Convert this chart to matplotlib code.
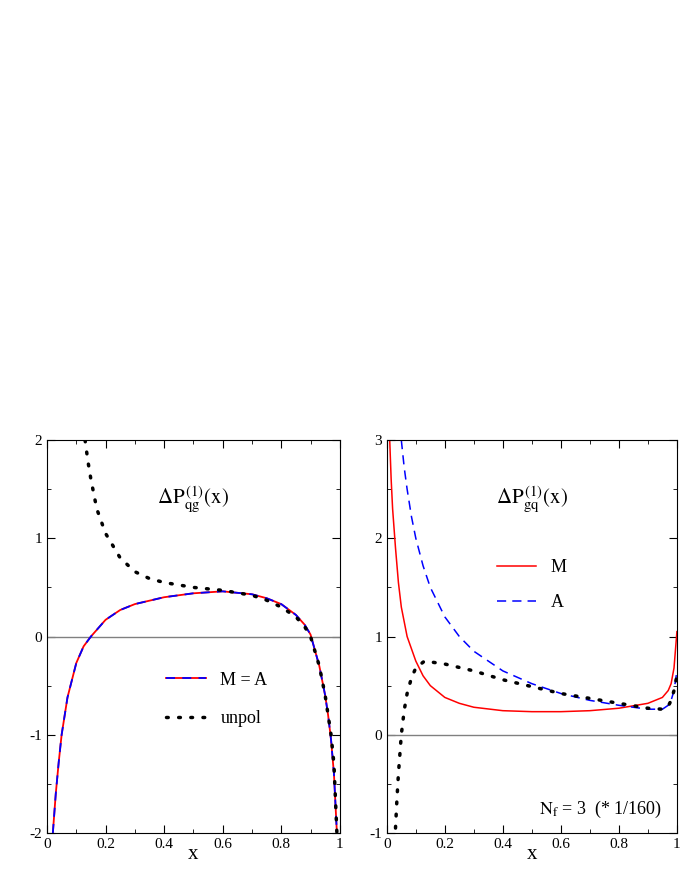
import matplotlib
matplotlib.use("Agg")
import matplotlib.pyplot as plt
from matplotlib.ticker import MultipleLocator

plt.rcParams['font.family'] = ['Liberation Serif', 'DejaVu Serif']
plt.rcParams['mathtext.fontset'] = 'stix'

# left panel: Delta P_qg
qg_x = [0.02, 0.03, 0.04, 0.05, 0.07, 0.1, 0.125, 0.15, 0.2, 0.25, 0.3, 0.4, 0.5, 0.6, 0.7, 0.75, 0.8, 0.85, 0.88, 0.9, 0.93, 0.95, 0.96, 0.97, 0.98, 0.99]
qg_MA = [-2.0, -1.6, -1.28, -1.0, -0.62, -0.27, -0.1, 0.0, 0.17, 0.27, 0.33, 0.4, 0.44, 0.46, 0.43, 0.39, 0.33, 0.22, 0.12, 0.02, -0.3, -0.6, -0.8, -1.05, -1.4, -2.0]
qg_unpol_x = [0.13, 0.14, 0.15, 0.17, 0.2, 0.25, 0.3, 0.35, 0.4, 0.5, 0.6, 0.7, 0.75, 0.8, 0.85, 0.88, 0.9, 0.93, 0.95, 0.97, 0.98, 0.99]
qg_unpol = [2.0, 1.78, 1.6, 1.3, 1.05, 0.8, 0.66, 0.59, 0.55, 0.5, 0.47, 0.42, 0.37, 0.3, 0.2, 0.1, 0.0, -0.3, -0.6, -1.0, -1.3, -2.0]

# right panel: Delta P_gq (* 1/160)
gq_M_x = [0.01, 0.015, 0.02, 0.03, 0.04, 0.05, 0.07, 0.1, 0.125, 0.15, 0.2, 0.25, 0.3, 0.4, 0.5, 0.6, 0.7, 0.8, 0.9, 0.95, 0.97, 0.98, 0.99, 1.0]
gq_M = [3.0, 2.6, 2.3, 1.9, 1.55, 1.3, 1.0, 0.75, 0.6, 0.5, 0.38, 0.32, 0.28, 0.245, 0.235, 0.235, 0.245, 0.27, 0.32, 0.38, 0.45, 0.52, 0.68, 1.05]
gq_A_x = [0.05, 0.06, 0.07, 0.085, 0.1, 0.125, 0.15, 0.2, 0.25, 0.3, 0.4, 0.5, 0.6, 0.7, 0.8, 0.9, 0.95, 0.97, 0.98, 0.99, 1.0]
gq_A = [3.0, 2.72, 2.5, 2.22, 2.0, 1.72, 1.5, 1.2, 1.0, 0.85, 0.65, 0.52, 0.42, 0.35, 0.3, 0.26, 0.26, 0.3, 0.35, 0.45, 0.65]
gq_unpol_x = [0.03, 0.035, 0.04, 0.05, 0.06, 0.07, 0.085, 0.1, 0.13, 0.2, 0.3, 0.4, 0.5, 0.6, 0.7, 0.8, 0.9, 0.95, 0.97, 0.98, 0.99, 1.0]
gq_unpol = [-0.95, -0.65, -0.4, 0.0, 0.25, 0.42, 0.58, 0.68, 0.75, 0.72, 0.65, 0.56, 0.49, 0.42, 0.37, 0.32, 0.27, 0.26, 0.29, 0.35, 0.45, 0.6]

fig = plt.figure(figsize=(6.81, 8.81), dpi=100)
ax1 = fig.add_axes([0.069, 0.0545, 0.430, 0.446])
ax2 = fig.add_axes([0.568, 0.0545, 0.426, 0.446])

for ax, ylo in [(ax1, -2), (ax2, -1)]:
    ax.set_xlim(0, 1)
    ax.set_ylim(ylo, ylo + 4)
    ax.axhline(0, color='gray', lw=1)
    ax.xaxis.set_major_locator(MultipleLocator(0.2))
    ax.xaxis.set_minor_locator(MultipleLocator(0.1))
    ax.yaxis.set_major_locator(MultipleLocator(1))
    ax.yaxis.set_minor_locator(MultipleLocator(0.5))
    ax.tick_params(which='both', direction='in', top=True, right=True, labelsize=11)
    ax.tick_params(which='major', length=6)
    ax.tick_params(which='minor', length=3)
    ax.xaxis.set_major_formatter(plt.FuncFormatter(lambda v, p: '%g' % round(v, 1)))
    ax.yaxis.set_major_formatter(plt.FuncFormatter(lambda v, p: '%g' % round(v)))
    ax.set_xlabel('x', fontsize=15, labelpad=-4)

red_l, = ax1.plot(qg_x, qg_MA, color='red', lw=1.3)
blue_l, = ax1.plot(qg_x, qg_MA, color='blue', lw=1.3, ls=(0, (5, 4)))
dot_l, = ax1.plot(qg_unpol_x, qg_unpol, color='black', lw=2.5, ls=(0, (0.5, 3)), dash_capstyle='round')
ax1.text(0.5, 0.85, r'$\Delta\mathrm{P}_{\mathrm{qg}}^{\,(1)}\mathrm{(x)}$', transform=ax1.transAxes,
         ha='center', va='center', fontsize=15)
ax1.legend([(red_l, blue_l), dot_l], ['M = A', 'unpol'], loc='center', bbox_to_anchor=(0.58, 0.34),
           frameon=False, fontsize=13, handlelength=2.2, labelspacing=1.2)

ax2.plot(gq_M_x, gq_M, color='red', lw=1.1, label='M')
ax2.plot(gq_A_x, gq_A, color='blue', lw=1.1, ls=(0, (6, 4)), label='A')
ax2.plot(gq_unpol_x, gq_unpol, color='black', lw=2.5, ls=(0, (0.5, 3)), dash_capstyle='round')
ax2.text(0.5, 0.85, r'$\Delta\mathrm{P}_{\mathrm{gq}}^{\,(1)}\mathrm{(x)}$', transform=ax2.transAxes,
         ha='center', va='center', fontsize=15)
ax2.legend(loc='center', bbox_to_anchor=(0.5, 0.63), frameon=False, fontsize=13,
           handlelength=2.2, labelspacing=1.0)
ax2.text(0.95, 0.06, r'$\mathrm{N_f}$ = 3  (* 1/160)', transform=ax2.transAxes,
         ha='right', va='center', fontsize=13)

fig.savefig('out.png', dpi=100)
